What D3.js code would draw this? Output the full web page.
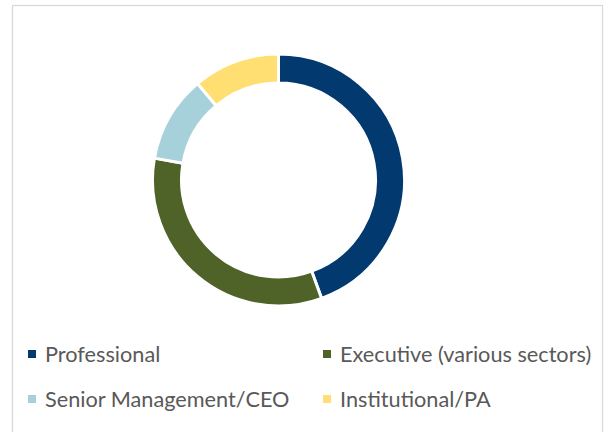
<!DOCTYPE html>
<html>
<head>
<meta charset="utf-8">
<script src="https://cdn.jsdelivr.net/npm/d3@7"></script>
<style>
    body { margin: 0; background: #fff; }
    svg text { font-family: Lato, "Open Sans", sans-serif; fill: #595959; }
</style>
</head>
<body>
<div id="chart"></div>
<script>
// 图表数据
var categories = ['Professional', 'Executive (various sectors)', 'Senior Management/CEO', 'Institutional/PA'];
var values = [4, 3, 1, 1];
var colors = ['#023a70', '#4f6228', '#a6d1da', '#ffdf72'];

var width = 614,
    height = 432;

var svg = d3.select('#chart').append('svg')
    .attr('width', width)
    .attr('height', height);

// 外框
svg.append('rect')
    .attr('x', 12.5)
    .attr('y', 5.5)
    .attr('width', 590)
    .attr('height', 440)
    .attr('fill', 'none')
    .attr('stroke', '#d9d9d9')
    .attr('stroke-width', 1.3);

// 环形图
var pie = d3.pie()
    .sort(null)
    .value(function(d) {
        return d;
    });

var arc = d3.arc()
    .innerRadius(97)
    .outerRadius(126);

var donut = svg.append('g')
    .attr('transform', 'translate(278.5,180)');

donut.selectAll('path')
    .data(pie(values))
    .enter()
    .append('path')
    .attr('d', arc)
    .attr('fill', function(d, i) {
        return colors[i];
    })
    .attr('stroke', '#fff')
    .attr('stroke-width', 3);

// 图例
var legendX = [28, 323],
    legendY = [354, 399];

var items = svg.selectAll('.legend')
    .data(categories)
    .enter()
    .append('g')
    .attr('class', 'legend')
    .attr('transform', function(d, i) {
        return 'translate(' + legendX[i % 2] + ',' + legendY[Math.floor(i / 2)] + ')';
    });

items.append('rect')
    .attr('x', 0)
    .attr('y', -4)
    .attr('width', 8)
    .attr('height', 8)
    .attr('fill', function(d, i) {
        return colors[i];
    });

items.append('text')
    .attr('x', 17)
    .attr('y', 7.5)
    .style('font-size', '21.7px')
    .text(function(d) {
        return d;
    });
</script>
</body>
</html>
